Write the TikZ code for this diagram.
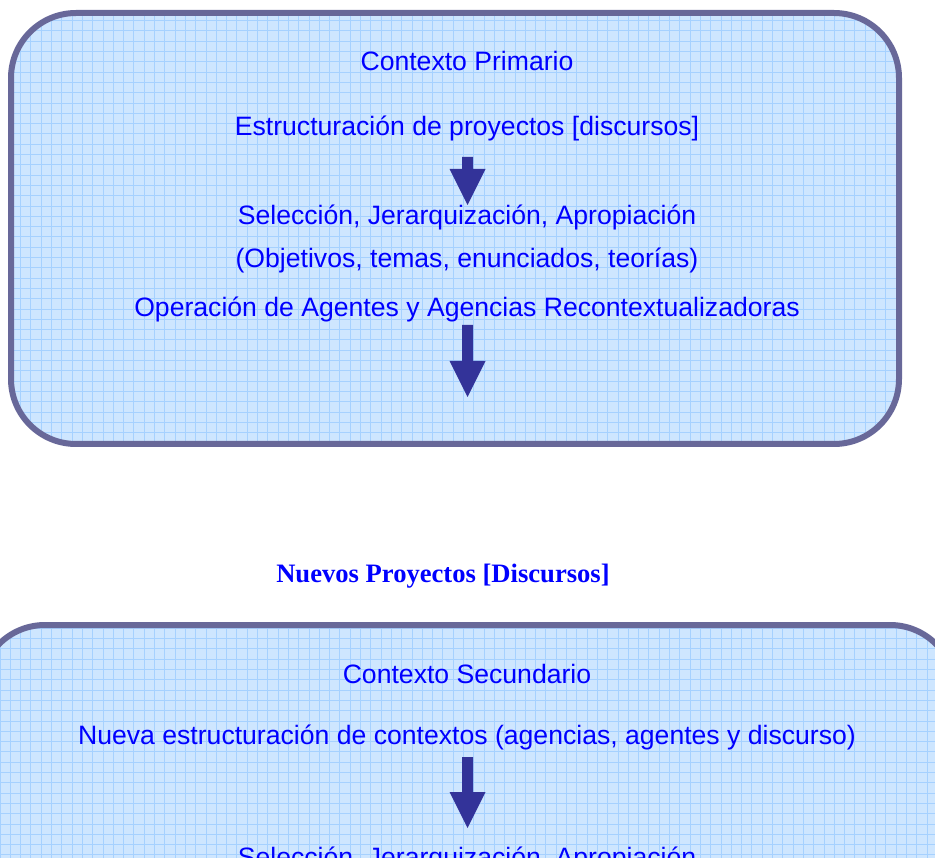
\documentclass[tikz,border=0pt]{standalone}
\usepackage{fontspec}
\setmainfont{Liberation Sans}
\newfontfamily\tnr{Liberation Serif}
\definecolor{boxfill}{RGB}{206,230,255}
\definecolor{gridc}{RGB}{166,209,255}
\definecolor{bordc}{RGB}{104,104,153}
\definecolor{arrc}{RGB}{51,51,153}
\definecolor{txtc}{RGB}{0,0,255}
\tikzset{
  boxborder/.style={draw=bordc, line width=6pt, rounded corners=65pt},
  gridline/.style={draw=gridc, line width=0.9pt},
  lbl/.style={anchor=base, inner sep=0pt, text=txtc, font=\fontsize{26.6}{32}\selectfont},
  ttl/.style={anchor=base, inner sep=0pt, text=txtc, font=\tnr\bfseries\fontsize{26.6}{32}\selectfont},
  blockarrow/.style={fill=arrc, draw=none}
}
\newcommand{\blockarr}[3]{% x, top y, tip y
  \fill[blockarrow] (#1-5.5,#2) -- (#1+5.5,#2) -- (#1+5.5,#3-36) -- (#1+18,#3-36)
    -- (#1,#3) -- (#1-18,#3-36) -- (#1-5.5,#3-36) -- cycle;}
\begin{document}
\begin{tikzpicture}[x=1pt,y=-1pt]
\useasboundingbox (0,0) rectangle (935,858);
\clip (0,0) rectangle (935,858);
\fill[white] (0,0) rectangle (935,858);
% top box
\begin{scope}
  \clip[rounded corners=65pt] (11,13) rectangle (899,444);
  \fill[boxfill] (11,13) rectangle (899,444);
  \draw[gridline, step=10.3pt] (0,0) grid (935,460);
\end{scope}
\draw[boxborder] (11,13) rectangle (899,444);
% bottom box
\begin{scope}
  \clip[rounded corners=65pt] (-20,625) rectangle (955,1100);
  \fill[boxfill] (-20,625) rectangle (955,1100);
  \draw[gridline, step=10.3pt] (0,618) grid (935,870);
\end{scope}
\draw[boxborder] (-20,625) rectangle (955,1100);
% texts top
\node[lbl] (cp) at (467,71) {Contexto Primario};
\node[lbl] (ep) at (467,136) {Estructuración de proyectos [discursos]};
\node[lbl] (s1) at (467,225) {Selección, Jerarquización, Apropiación};
\node[lbl] (ob) at (467,268) {(Objetivos, temas, enunciados, teorías)};
\node[lbl] (op) at (467,317) {Operación de Agentes y Agencias Recontextualizadoras};
\blockarr{467.5}{157}{205}
\blockarr{467.5}{325}{397}
% middle title
\node[ttl] (np) at (443,582) {Nuevos Proyectos [Discursos]};
% texts bottom
\node[lbl] (cs) at (467,683) {Contexto Secundario};
\node[lbl] (ne) at (467,744) {Nueva estructuración de contextos (agencias, agentes y discurso)};
\blockarr{467.5}{757}{828}
\node[lbl] (s2) at (467,866) {Selección, Jerarquización, Apropiación};
\end{tikzpicture}
\end{document}
